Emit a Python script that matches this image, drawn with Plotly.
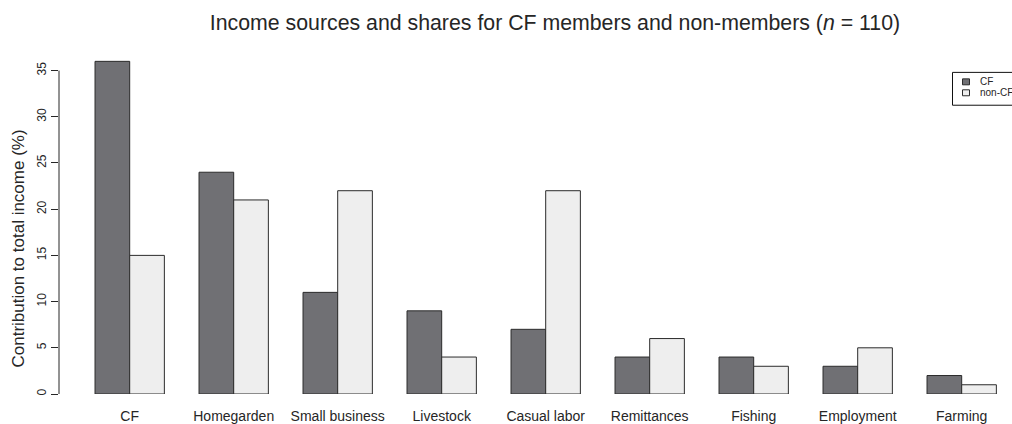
import plotly.graph_objects as go

categories = ["CF", "Homegarden", "Small business", "Livestock", "Casual labor",
              "Remittances", "Fishing", "Employment", "Farming"]
cf_members = [36, 24, 11, 9, 7, 4, 4, 3, 2]
non_members = [15, 21, 22, 4, 22, 6, 3, 5, 1]
y_ticks = [0, 5, 10, 15, 20, 25, 30, 35]

W, H = 1012, 424
L, R, T, B = 59, 0, 50, 424 - 395.7
pw, ph = W - L - R, H - T - B
unit = 9.286   # px per percentage point
pitch = 104    # px per category

dark = "#707074"
light = "#eeeeee"
edge = "#2b2b2b"
txt = "#262626"


def px(x):
    return (x - L) / pw


def py(y):
    return 1 - (y - T) / ph


fig = go.Figure()
fig.add_trace(go.Bar(x=categories, y=cf_members, name="CF",
                     marker=dict(color=dark, line=dict(color=edge, width=1))))
fig.add_trace(go.Bar(x=categories, y=non_members, name="non-CF",
                     marker=dict(color=light, line=dict(color=edge, width=1))))

# R-style y axis line only spanning the tick range
fig.add_shape(type="line", xref="paper", yref="y", x0=0, x1=0, y0=0, y1=35,
              line=dict(color=txt, width=1))

# y axis title
fig.add_annotation(x=px(18.5), y=py(250), xref="paper", yref="paper",
                   text="Contribution to total income (%)", textangle=-90,
                   showarrow=False, xanchor="center", yanchor="middle",
                   font=dict(size=17, color=txt))

# legend box (cut off at the right edge like the original)
fig.add_shape(type="rect", xref="paper", yref="paper",
              x0=px(952.5), x1=px(1040), y0=py(105.5), y1=py(72.5),
              line=dict(color="#111", width=1), fillcolor="white")
for i, (nm, col) in enumerate([("CF", dark), ("non-CF", light)]):
    yc = 82 + 11 * i
    fig.add_shape(type="rect", xref="paper", yref="paper",
                  x0=px(962.5), x1=px(969.5), y0=py(yc + 3), y1=py(yc - 3),
                  line=dict(color=edge, width=1), fillcolor=col)
    fig.add_annotation(x=px(978), y=py(yc), xref="paper", yref="paper",
                       text=nm, showarrow=False, xanchor="left", yanchor="middle",
                       font=dict(size=10, color=txt))

fig.update_layout(
    width=W, height=H,
    barmode="group", bargap=1 / 3, bargroupgap=0,
    showlegend=False,
    paper_bgcolor="white", plot_bgcolor="white",
    font=dict(family="Liberation Sans, Arial, sans-serif", color=txt, size=14),
    margin=dict(l=L, r=R, t=T, b=B, pad=0),
    title=dict(text="Income sources and shares for CF members and non-members (<i>n</i> = 110)",
               x=555 / W, xanchor="center", xref="container",
               y=1 - 23 / H, yanchor="middle", yref="container",
               font=dict(size=21.3, color=txt)),
)
fig.update_xaxes(range=[(L - 129.7) / pitch, (W - 129.7) / pitch],
                 showline=False, showgrid=False, ticks="", zeroline=False,
                 ticklabelstandoff=12,
                 tickfont=dict(size=14, color=txt))
fig.update_yaxes(range=[0, ph / unit], tickvals=y_ticks, ticks="outside", ticklen=7,
                 tickcolor=txt, showline=False, showgrid=False, zeroline=False,
                 tickangle=-90, tickfont=dict(size=12, color=txt))

# drop the default 8px page margin so the figure sits at the window corner
fig.write_html("out.html", config={"displayModeBar": False},
               post_script="document.body.style.margin='0';")
